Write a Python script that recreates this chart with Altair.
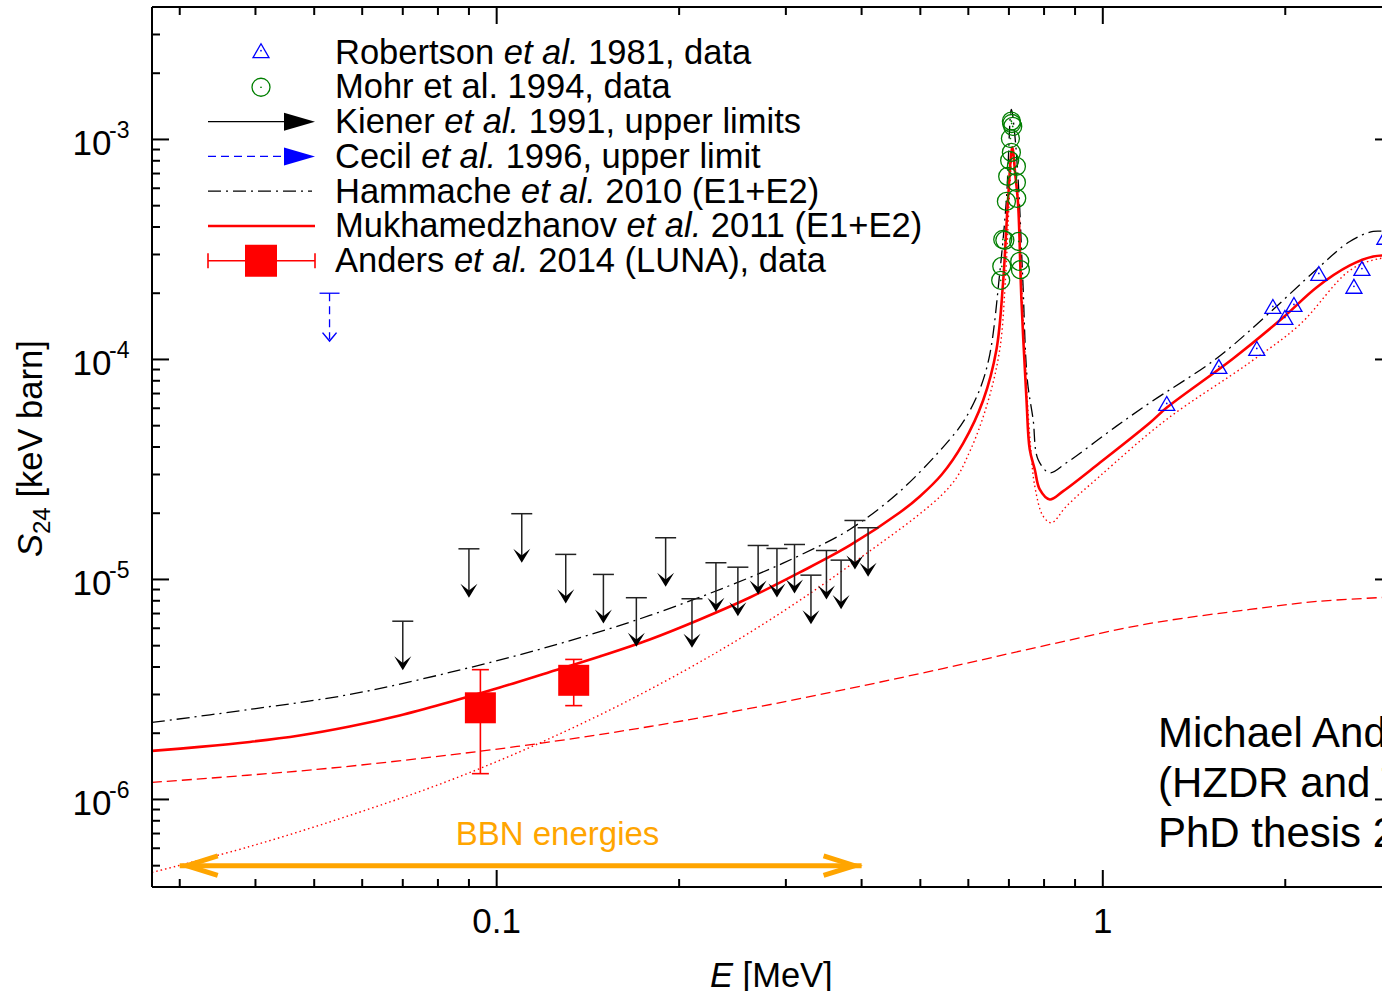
import altair as alt
import pandas as pd

# ---------------- data ----------------
# Mukhamedzhanov et al. 2011 (E1+E2), solid red
muk_E = [0.027, 0.03236, 0.03913, 0.04729, 0.05721, 0.06918, 0.08364, 0.1012, 0.1224, 0.1479,
         0.1789, 0.2163, 0.2616, 0.3162, 0.3824, 0.4624, 0.4989, 0.5424, 0.5882, 0.6346, 0.6677,
         0.6846, 0.6977, 0.709, 0.7171, 0.7249, 0.7341, 0.7483, 0.7576, 0.7723, 0.787,
         0.8176, 0.8603, 0.9886, 1.196, 1.274, 1.641, 1.984, 2.252, 2.556, 2.793, 3.0]
muk_S = [1.662e-6, 1.733e-6, 1.826e-6, 1.954e-6, 2.146e-6, 2.409e-6, 2.774e-6, 3.228e-6, 3.797e-6, 4.467e-6,
         5.337e-6, 6.58e-6, 8.28e-6, 1.076e-5, 1.427e-5, 2.015e-5, 2.384e-5, 3.0e-5, 4.157e-5, 6.51e-5, 1.11e-4,
         2.232e-4, 5.336e-4, 9.2e-4, 6.93e-4, 5.06e-4, 1.874e-4, 6.58e-5, 3.90e-5, 3.162e-5, 2.565e-5,
         2.31e-5, 2.52e-5, 3.39e-5, 5.157e-5, 6.03e-5, 1.01e-4, 1.552e-4, 2.125e-4, 2.675e-4, 2.938e-4, 2.97e-4]
# Hammache et al. 2010 (E1+E2), black dash-dot
ham_E = [0.027, 0.03913, 0.05721, 0.08364, 0.1224, 0.1789, 0.2616, 0.3162, 0.3824, 0.4624,
         0.5592, 0.5920, 0.6266, 0.6509, 0.6761, 0.6934, 0.7066, 0.7157, 0.7266, 0.7379, 0.7506,
         0.7674, 0.7820, 0.8176, 0.8711, 1.0534, 1.196, 1.54, 1.863, 2.252, 2.556, 2.793, 3.0]
ham_S = [2.239e-6, 2.566e-6, 3.0e-6, 3.777e-6, 4.96e-6, 6.86e-6, 1.021e-5, 1.286e-5, 1.688e-5, 2.512e-5,
         4.33e-5, 5.337e-5, 7.305e-5, 1.053e-4, 2.478e-4, 5.336e-4, 1.369e-3, 1.054e-3, 5.925e-4, 2.31e-4, 8.11e-5,
         5.337e-5, 3.51e-5, 3.055e-5, 3.39e-5, 4.976e-5, 6.355e-5, 1.01e-4, 1.585e-4, 2.566e-4, 3.438e-4, 3.818e-4, 3.778e-4]
# red dotted component
dot_E = [0.027, 0.03913, 0.05721, 0.08364, 0.1224, 0.1789, 0.2616, 0.3824, 0.5592, 0.6033,
         0.6458, 0.6761, 0.6904, 0.7010, 0.7098, 0.7186, 0.7266, 0.7366, 0.7506, 0.7606,
         0.7723, 0.7970, 0.8228, 0.8711, 0.9886, 1.274, 1.748, 2.114, 2.556, 2.865, 3.0]
dot_S = [4.66e-7, 6.11e-7, 8.46e-7, 1.22e-6, 1.894e-6, 3.162e-6, 5.74e-6, 1.158e-5, 2.646e-5, 3.818e-5,
         6.375e-5, 1.11e-4, 2.239e-4, 5.336e-4, 9.0e-4, 6.72e-4, 4.91e-4, 1.874e-4, 6.58e-5, 3.90e-5,
         2.655e-5, 1.94e-5, 1.81e-5, 2.153e-5, 2.948e-5, 5.337e-5, 9.69e-5, 1.442e-4, 2.54e-4, 2.877e-4, 2.877e-4]
# red dashed component
dash_E = [0.027, 0.05047, 0.08364, 0.1224, 0.1789, 0.2616, 0.3824, 0.5592, 0.8176, 1.196, 1.748, 2.255, 3.0]
dash_S = [1.195e-6, 1.369e-6, 1.593e-6, 1.826e-6, 2.146e-6, 2.592e-6, 3.195e-6, 4.0e-6, 5.063e-6, 6.31e-6,
          7.305e-6, 7.943e-6, 8.32e-6]
# Robertson et al. 1981
rob_E = [1.275, 1.554, 1.795, 1.908, 1.997, 2.067, 2.272, 2.596, 2.676, 2.92]
rob_S = [6.31e-5, 9.29e-5, 1.122e-4, 1.742e-4, 1.552e-4, 1.778e-4, 2.46e-4, 2.15e-4, 2.59e-4, 3.59e-4]
# Mohr et al. 1994
mohr_E = [0.7066, 0.7074, 0.7102, 0.7040, 0.7066, 0.7020, 0.6968, 0.6934, 0.6838, 0.6893, 0.6813, 0.6785,
          0.7202, 0.7202, 0.7211, 0.7266, 0.7294, 0.7313]
mohr_S = [1.211e-3, 1.182e-3, 1.146e-3, 1.010e-3, 8.73e-4, 8.03e-4, 6.79e-4, 5.23e-4, 3.51e-4, 3.48e-4, 2.65e-4, 2.29e-4,
          7.54e-4, 6.38e-4, 5.40e-4, 3.44e-4, 2.79e-4, 2.56e-4]
# Kiener et al. 1991 upper limits
kie_E = [0.07, 0.09, 0.11, 0.13, 0.15, 0.17, 0.19, 0.21, 0.23, 0.25, 0.27, 0.29, 0.31, 0.33, 0.35, 0.37, 0.39, 0.41]
kie_S = [6.46e-6, 1.378e-5, 1.99e-5, 1.30e-5, 1.054e-5, 8.26e-6, 1.547e-5, 8.17e-6, 1.191e-5, 1.137e-5,
         1.427e-5, 1.383e-5, 1.442e-5, 1.046e-5, 1.354e-5, 1.224e-5, 1.854e-5, 1.718e-5]
# Cecil et al. 1996 upper limit
cec_E = [0.053]
cec_S = [2.0e-4]
# Anders et al. 2014 (LUNA)
and_E = [0.094, 0.134]
and_S = [2.61e-6, 3.48e-6]
and_lo = [1.31e-6, 2.67e-6]
and_hi = [3.89e-6, 4.33e-6]
# BBN energy range
bbn_E = [0.03, 0.4]
bbn_S = [5e-7]
# ticks
x_major = [0.1, 1.0]
x_labels = ['0.1', '1']
x_minor = [0.03, 0.04, 0.05, 0.06, 0.07, 0.08, 0.09, 0.2, 0.3, 0.4, 0.5, 0.6, 0.7, 0.8, 0.9, 2.0]
y_major = [1e-6, 1e-5, 1e-4, 1e-3]
y_exp = ['-6', '-5', '-4', '-3']
y_minor = [5e-7, 6e-7, 7e-7, 8e-7, 9e-7,
           2e-6, 3e-6, 4e-6, 5e-6, 6e-6, 7e-6, 8e-6, 9e-6,
           2e-5, 3e-5, 4e-5, 5e-5, 6e-5, 7e-5, 8e-5, 9e-5,
           2e-4, 3e-4, 4e-4, 5e-4, 6e-4, 7e-4, 8e-4, 9e-4,
           2e-3, 3e-3]

# ---------------- layout ----------------
FONT = 'Liberation Sans'
W, H = 1230, 880
XR = 1240  # full x range (right frame lies just outside the picture)
RED, BLUE, GREEN, ORANGE = '#ff0000', '#0000ff', '#007f00', '#ffa500'
xs = alt.Scale(type='log', domain=[0.027, 3.0], range=[0, XR], nice=False)
ys = alt.Scale(type='log', domain=[4e-7, 4e-3], nice=False)
one = pd.DataFrame({'k': [0]})


def X(f='E'):
    return alt.X(f + ':Q', scale=xs, axis=None)


def Y(f='S'):
    return alt.Y(f + ':Q', scale=ys, axis=None)


def curve(E, S, **kw):
    return alt.Chart(pd.DataFrame({'E': E, 'S': S})).mark_line(interpolate='catmull-rom', **kw).encode(x=X(), y=Y())


def hline(x1, x2, y, **kw):
    return alt.Chart(one).mark_rule(**kw).encode(x=alt.value(x1), x2=alt.value(x2), y=alt.value(y))


def vline(x, y1, y2, **kw):
    return alt.Chart(one).mark_rule(**kw).encode(x=alt.value(x), y=alt.value(y1), y2=alt.value(y2))


def sym(x, y, **kw):
    return alt.Chart(one).mark_point(opacity=1, **kw).encode(x=alt.value(x), y=alt.value(y))


def txt(x, y, t, **kw):
    return alt.Chart(one).mark_text(text=t, font=FONT, align='left', baseline='alphabetic', **kw).encode(
        x=alt.value(x), y=alt.value(y))


layers = []

# curves
layers.append(curve(dash_E, dash_S, color=RED, strokeWidth=1.3, strokeDash=[10, 5]))
layers.append(curve(dot_E, dot_S, color=RED, strokeWidth=1.4, strokeDash=[1.5, 3]))
layers.append(curve(ham_E, ham_S, color='black', strokeWidth=1.3, strokeDash=[13, 5, 2, 5]))
layers.append(curve(muk_E, muk_S, color=RED, strokeWidth=2.6))

# Mohr circles
mohr = pd.DataFrame({'E': mohr_E, 'S': mohr_S})
layers.append(alt.Chart(mohr).mark_point(shape='circle', filled=False, size=324, color=GREEN,
                                         strokeWidth=1.3, opacity=1).encode(x=X(), y=Y()))
layers.append(alt.Chart(mohr).mark_circle(size=3, color=GREEN, opacity=1).encode(x=X(), y=Y()))

# Robertson triangles
rob = pd.DataFrame({'E': rob_E, 'S': rob_S})
layers.append(alt.Chart(rob).mark_point(shape='triangle-up', filled=False, size=256, color=BLUE,
                                        strokeWidth=1.3, opacity=1).encode(x=X(), y=Y()))
layers.append(alt.Chart(rob).mark_circle(size=3, color=BLUE, opacity=1).encode(x=X(), y=Y()))

# Kiener upper limits
HEAD_DOWN = 'M0,1L-1,-0.65L0,0.15L1,-0.65Z'
kie = pd.DataFrame({'E': kie_E, 'S': kie_S})
layers.append(alt.Chart(kie).mark_rule(color='#222222', strokeWidth=1.5, y2Offset=44).encode(
    x=X(), y=Y(), y2=alt.Y2('S:Q')))
layers.append(alt.Chart(kie).mark_tick(orient='horizontal', size=21, thickness=1.5, color='#222222',
                                       opacity=1).encode(x=X(), y=Y()))
layers.append(alt.Chart(kie).mark_point(shape=HEAD_DOWN, filled=True, size=289, color='black',
                                        opacity=1, yOffset=40.5).encode(x=X(), y=Y()))

# Cecil upper limit
cec = pd.DataFrame({'E': cec_E, 'S': cec_S})
layers.append(alt.Chart(cec).mark_rule(color=BLUE, strokeWidth=1.3, strokeDash=[8, 5], y2Offset=46).encode(
    x=X(), y=Y(), y2=alt.Y2('S:Q')))
layers.append(alt.Chart(cec).mark_tick(orient='horizontal', size=20, thickness=1.3, color=BLUE,
                                       opacity=1).encode(x=X(), y=Y()))
layers.append(alt.Chart(cec).mark_point(shape='M-1,-0.8L0,0.4L1,-0.8', filled=False, size=196, color=BLUE,
                                        strokeWidth=1.5, opacity=1, yOffset=45).encode(x=X(), y=Y()))

# Anders (LUNA) data
andf = pd.DataFrame({'E': and_E, 'S': and_S, 'lo': and_lo, 'hi': and_hi})
layers.append(alt.Chart(andf).mark_rule(color=RED, strokeWidth=1.6).encode(x=X(), y=Y('lo'), y2=alt.Y2('hi:Q')))
layers.append(alt.Chart(andf).mark_tick(orient='horizontal', size=17, thickness=1.6, color=RED,
                                        opacity=1).encode(x=X(), y=Y('lo')))
layers.append(alt.Chart(andf).mark_tick(orient='horizontal', size=17, thickness=1.6, color=RED,
                                        opacity=1).encode(x=X(), y=Y('hi')))
layers.append(alt.Chart(andf).mark_point(shape='square', filled=True, size=961, color=RED,
                                         opacity=1).encode(x=X(), y=Y()))

# BBN energies arrow
bbn = pd.DataFrame({'E1': [bbn_E[0]], 'E2': [bbn_E[1]], 'S': bbn_S})
layers.append(alt.Chart(bbn).mark_rule(color=ORANGE, strokeWidth=5).encode(x=X('E1'), x2=alt.X2('E2:Q'), y=Y()))
layers.append(alt.Chart(bbn).mark_point(shape='M-1,-0.315L0,0L-1,0.315', filled=False, size=3844, color=ORANGE,
                                        strokeWidth=5, opacity=1, xOffset=-7).encode(x=X('E2'), y=Y()))
layers.append(alt.Chart(bbn).mark_point(shape='M1,-0.315L0,0L1,0.315', filled=False, size=3844, color=ORANGE,
                                        strokeWidth=5, opacity=1, xOffset=7).encode(x=X('E1'), y=Y()))
layers.append(alt.Chart(pd.DataFrame({'E': [0.126], 'S': [6.2e-7], 't': ['BBN energies']})).mark_text(
    font=FONT, fontSize=33, color=ORANGE, align='center', baseline='alphabetic').encode(
    x=X(), y=Y(), text='t:N'))

# author annotation (runs off the right edge, as in the reference)
ann = pd.DataFrame({'t': ['Michael Anders', '(HZDR and TU Dresden)', 'PhD thesis 2014'],
                    'px': [1006, 1006, 1006], 'py': [739.7, 790.3, 839.7]})
layers.append(alt.Chart(ann).mark_text(font=FONT, fontSize=42, align='left', baseline='alphabetic',
                                       color='black').encode(
    x=alt.X('px:Q', scale=None, axis=None), y=alt.Y('py:Q', scale=None, axis=None), text='t:N'))

# frame
layers.append(hline(0, XR, 0, color='black', strokeWidth=2))
layers.append(hline(0, XR, H, color='black', strokeWidth=2))
layers.append(vline(0, 0, H, color='black', strokeWidth=2))

# inward ticks
xmaj = pd.DataFrame({'E': x_major, 't': x_labels})
xmin = pd.DataFrame({'E': x_minor})
ymaj = pd.DataFrame({'S': y_major, 'e': y_exp, 'b': ['10'] * len(y_major)})
ymin = pd.DataFrame({'S': y_minor})
for df, L in ((xmaj, 17), (xmin, 8)):
    layers.append(alt.Chart(df).mark_rule(color='black', strokeWidth=2).encode(
        x=X(), y=alt.value(H), y2=alt.value(H - L)))
    layers.append(alt.Chart(df).mark_rule(color='black', strokeWidth=2).encode(
        x=X(), y=alt.value(0), y2=alt.value(L)))
for df, L in ((ymaj, 17), (ymin, 8)):
    layers.append(alt.Chart(df).mark_rule(color='black', strokeWidth=2).encode(
        y=Y(), x=alt.value(0), x2=alt.value(L)))
    layers.append(alt.Chart(df).mark_rule(color='black', strokeWidth=2).encode(
        y=Y(), x=alt.value(XR - L), x2=alt.value(XR)))

# tick labels
layers.append(alt.Chart(xmaj).mark_text(font=FONT, fontSize=35, align='center', baseline='alphabetic',
                                        color='black').encode(x=X(), y=alt.value(926.3), text='t:N'))
layers.append(alt.Chart(ymaj).mark_text(font=FONT, fontSize=35, align='right', baseline='alphabetic',
                                        color='black', dy=15.6).encode(y=Y(), x=alt.value(-40.5), text='b:N'))
layers.append(alt.Chart(ymaj).mark_text(font=FONT, fontSize=23, align='left', baseline='alphabetic',
                                        color='black', dy=-1).encode(y=Y(), x=alt.value(-43), text='e:N'))

# axis titles
layers.append(txt(558, 979.7, 'E', fontSize=34.5, fontStyle='italic'))
layers.append(txt(590.6, 979.7, '[MeV]', fontSize=34.5))
layers.append(txt(-110, 550, 'S', fontSize=34.5, fontStyle='italic', angle=270))
layers.append(txt(-102, 527, '24', fontSize=24, angle=270))
layers.append(txt(-110, 490.5, '[keV barn]', fontSize=34.5, angle=270))

# ---------------- legend ----------------
FS_LEG = 34.5
LX0, LX1, LXC, LHEAD, LTEXT = 56, 163, 109, 147.5, 183
rows = [45.2 + 34.75 * i for i in range(7)]
HEAD_RIGHT = 'M-1,-0.58L1,0L-1,0.58Z'

layers.append(sym(LXC, rows[0] - 1.5, shape='triangle-up', filled=False, size=256, color=BLUE, strokeWidth=1.3))
layers.append(sym(LXC, rows[0] - 1.5, shape='circle', filled=True, size=3, color=BLUE))
layers.append(sym(LXC, rows[1] + 0.3, shape='circle', filled=False, size=324, color=GREEN, strokeWidth=1.3))
layers.append(sym(LXC, rows[1] + 0.3, shape='circle', filled=True, size=3, color=GREEN))
layers.append(hline(LX0, 134, rows[2], color='black', strokeWidth=1.3))
layers.append(sym(LHEAD, rows[2], shape=HEAD_RIGHT, filled=True, size=961, color='black'))
layers.append(hline(LX0, 134, rows[3], color=BLUE, strokeWidth=1.3, strokeDash=[8, 5]))
layers.append(sym(LHEAD, rows[3], shape=HEAD_RIGHT, filled=True, size=961, color=BLUE))
layers.append(hline(LX0, 160, rows[4], color='black', strokeWidth=1.3, strokeDash=[13, 5, 2, 5]))
layers.append(hline(LX0, LX1, rows[5], color=RED, strokeWidth=2.6))
layers.append(hline(LX0, LX1, rows[6], color=RED, strokeWidth=1.6))
layers.append(vline(LX0, rows[6] - 7.5, rows[6] + 7.5, color=RED, strokeWidth=1.6))
layers.append(vline(LX1, rows[6] - 7.5, rows[6] + 7.5, color=RED, strokeWidth=1.6))
layers.append(sym(LXC, rows[6], shape='square', filled=True, size=1024, color=RED))

leg_text = [
    [("Robertson ", 0), ("et al.", 1), (" 1981, data", 0)],
    [("Mohr et al. 1994, data", 0)],
    [("Kiener ", 0), ("et al.", 1), (" 1991, upper limits", 0)],
    [("Cecil ", 0), ("et al.", 1), (" 1996, upper limit", 0)],
    [("Hammache ", 0), ("et al.", 1), (" 2010 (E1+E2)", 0)],
    [("Mukhamedzhanov ", 0), ("et al.", 1), (" 2011 (E1+E2)", 0)],
    [("Anders ", 0), ("et al.", 1), (" 2014 (LUNA), data", 0)],
]
CW = {' ': 278, '(': 333, ')': 333, '+': 584, ',': 278, '.': 278, 'A': 667, 'E': 667, 'H': 722, 'K': 667,
      'L': 556, 'M': 833, 'N': 722, 'R': 722, 'U': 722, 'C': 722, 'a': 556, 'b': 556, 'c': 500, 'd': 556,
      'e': 556, 'h': 556, 'i': 222, 'k': 500, 'l': 222, 'm': 833, 'n': 556, 'o': 556, 'p': 556, 'r': 333,
      's': 500, 't': 278, 'u': 556, 'v': 500, 'z': 500, 'g': 556, 'y': 500}


def tw(s):
    return sum(CW.get(c, 556) for c in s) * FS_LEG / 1000.0


seg_rows = []
for i, segs in enumerate(leg_text):
    off = 0.0
    for s, it in segs:
        lead = len(s) - len(s.lstrip(' '))
        seg_rows.append({'px': LTEXT + off + tw(s[:lead]), 'py': rows[i] + 11.5, 't': s.strip(), 'it': it})
        off += tw(s)
seg = pd.DataFrame(seg_rows)
for it, style in ((0, 'normal'), (1, 'italic')):
    layers.append(alt.Chart(seg[seg['it'] == it]).mark_text(
        font=FONT, fontSize=FS_LEG, fontStyle=style, align='left', baseline='alphabetic', color='black').encode(
        x=alt.X('px:Q', scale=None, axis=None), y=alt.Y('py:Q', scale=None, axis=None), text='t:N'))

chart = alt.layer(*layers).properties(
    width=W, height=H,
    autosize=alt.AutoSizeParams(type='none'),
    padding={'left': 152, 'top': 7, 'right': 0, 'bottom': 104},
    background='white',
).configure_view(stroke='transparent')

chart.save("out.html", embed_options={"renderer": "svg", "actions": False})
